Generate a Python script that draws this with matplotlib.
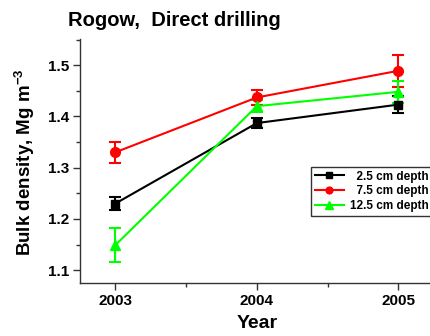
import matplotlib
matplotlib.use("Agg")
import matplotlib.pyplot as plt
from matplotlib.lines import Line2D
from matplotlib.ticker import MultipleLocator

plt.rcParams['font.family'] = ['Liberation Sans', 'DejaVu Sans']
plt.rcParams['font.weight'] = 'bold'
plt.rcParams['mathtext.fontset'] = 'custom'
plt.rcParams['mathtext.rm'] = 'Liberation Sans:bold'
plt.rcParams['mathtext.bf'] = 'Liberation Sans:bold'

years = [2003, 2004, 2005]
depth_labels = ["  2.5 cm depth", "  7.5 cm depth", "12.5 cm depth"]
density_2_5 = [1.230, 1.387, 1.423]
err_2_5 = [0.013, 0.010, 0.016]
density_7_5 = [1.330, 1.437, 1.489]
err_7_5 = [0.020, 0.015, 0.031]
density_12_5 = [1.149, 1.420, 1.448]
err_12_5 = [0.033, 0.012, 0.022]

fig = plt.figure(figsize=(4.30, 3.36), dpi=100)
ax = fig.add_axes([80 / 430, 53 / 336, 353.75 / 430, 244 / 336])

series = [
    (density_2_5, err_2_5, 'black', 's', 6),
    (density_7_5, err_7_5, '#ff0000', 'o', 7),
    (density_12_5, err_12_5, '#00ff00', '^', 7.5),
]
handles = []
for (vals, errs, color, marker, ms), label in zip(series, depth_labels):
    ax.errorbar(years, vals, yerr=errs, color=color, marker=marker,
                markersize=ms, linewidth=1.5, elinewidth=1.5,
                capsize=4, capthick=1.5, clip_on=False)
    handles.append(Line2D([], [], color=color, marker=marker,
                          markersize=ms * 0.7, linewidth=1.5))

ax.set_xlim(2002.75, 2005.25)
ax.set_ylim(1.075, 1.551)
ax.set_xticks(years)
ax.xaxis.set_minor_locator(MultipleLocator(0.5))
ax.yaxis.set_minor_locator(MultipleLocator(0.05))
ax.set_yticks([1.1, 1.2, 1.3, 1.4, 1.5])
ax.set_yticklabels(['1.1', '1.2', '1.3', '1.4', '1.5'])

for side in ('top', 'right'):
    ax.spines[side].set_visible(False)
for side in ('left', 'bottom'):
    ax.spines[side].set_color('#333333')
    ax.spines[side].set_linewidth(1.0)

ax.tick_params(axis='both', which='major', direction='out', length=5,
               width=1.0, color='#333333', labelsize=11, pad=3)
ax.tick_params(axis='both', which='minor', direction='out', length=3,
               width=1.0, color='#333333')
for lbl in ax.get_xticklabels() + ax.get_yticklabels():
    lbl.set_fontweight('bold')

fig.text(68 / 430, 1 - 20 / 336, "Rogow,  Direct drilling", fontsize=14.5,
         fontweight='bold', ha='left', va='center')
fig.text(257 / 430, 1 - 324 / 336, "Year", fontsize=14, fontweight='bold',
         ha='center', va='center')
fig.text(25 / 430, 1 - 162 / 336, r"Bulk density, Mg m$^{\mathbf{-3}}$",
         fontsize=13.5, fontweight='bold', rotation=90,
         ha='center', va='center')

leg = fig.legend(handles, depth_labels, loc='upper left',
                 bbox_to_anchor=(311 / 430, 1 - 167 / 336),
                 prop={'size': 8.5, 'weight': 'bold'},
                 frameon=True, fancybox=False, edgecolor='black',
                 handlelength=2.5, handletextpad=0.5, labelspacing=0.25,
                 borderpad=0.3, borderaxespad=0.0)
leg.get_frame().set_linewidth(1.0)

fig.savefig("out.png", dpi=100)
